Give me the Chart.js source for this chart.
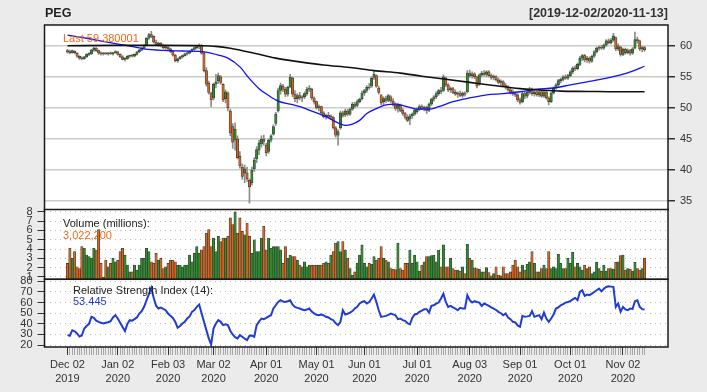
<!DOCTYPE html>
<html>
<head>
<meta charset="utf-8">
<script src="https://cdn.jsdelivr.net/npm/chart.js@4.4.1/dist/chart.umd.min.js"></script>
<style>
  html, body { margin: 0; padding: 0; background: #ebebeb; }
  #wrap { position: relative; width: 707px; height: 392px; overflow: hidden; font-family: "Liberation Sans", Arial, sans-serif; }
  #wrap canvas { position: absolute; left: 0; }
  .lbl { position: absolute; white-space: nowrap; font-size: 11px; line-height: 1; }
</style>
</head>
<body>
<div id="wrap">
  <canvas id="priceChart" width="707" height="220" style="top:0px"></canvas>
  <canvas id="volChart" width="707" height="86" style="top:200px"></canvas>
  <canvas id="rsiChart" width="707" height="122" style="top:270px"></canvas>

  <div class="lbl" style="left:45px; top:7px; font-size:12.5px; font-weight:bold; color:#222">PEG</div>
  <div class="lbl" style="right:39px; top:7px; font-size:12.5px; font-weight:bold; color:#333">[2019-12-02/2020-11-13]</div>
  <div class="lbl" style="left:63px; top:33px; color:#f06a14">Last 59.380001</div>
  <div class="lbl" style="left:63px; top:218px; color:#222">Volume (millions):</div>
  <div class="lbl" style="left:63px; top:230px; color:#f06a14">3,022,200</div>
  <div class="lbl" style="left:73px; top:285px; color:#222">Relative Strength Index (14):</div>
  <div class="lbl" style="left:73px; top:296px; color:#2038d8">53.445</div>
</div>

<script>
// PEG daily prices, 2019-12-02 .. 2020-11-13 (242 sessions)
const openPx = [
    59.2,59.0,58.9,59.1,58.8,58.3,58.0,57.9,58.2,58.6, 58.7,59.3,59.6,59.2,58.8,58.7,58.8,58.7,58.8,58.7,
    58.9,59.0,58.6,58.2,57.8,57.9,58.3,58.4,58.3,58.6, 59.0,59.3,59.6,60.1,61.2,61.8,61.5,60.6,60.2,60.4,
    60.0,59.7,59.8,59.5,59.1,58.5,57.6,57.9,58.2,58.4, 58.7,58.8,59.1,59.4,59.7,59.9,60.1,58.8,56.0,54.0,
    52.3,51.6,53.8,54.4,55.0,53.8,51.5,52.4,49.5,47.0, 44.8,45.0,42.2,40.5,39.5,39.5,38.4,38.0,40.2,41.8,
    43.2,44.2,45.0,44.0,43.0,44.8,45.8,47.5,49.5,52.8, 53.5,53.0,52.2,53.4,54.8,52.2,51.5,52.0,51.6,51.8,
    52.3,53.0,53.0,51.6,51.0,50.0,50.2,49.2,48.6,48.8, 48.5,48.5,46.8,45.6,46.8,49.2,48.9,49.5,49.0,49.8,
    50.6,50.4,51.0,51.5,52.4,52.8,53.3,53.5,54.9,55.2, 53.2,52.0,51.0,51.5,51.2,51.8,51.1,50.5,49.9,50.4,
    49.6,49.1,48.5,48.2,48.7,49.0,49.4,49.8,50.2,49.9, 50.1,49.6,50.6,51.4,51.8,52.3,52.8,52.8,54.8,53.7,
    52.9,53.1,52.5,52.2,52.4,52.0,52.4,52.6,55.6,55.2, 55.5,55.0,53.8,55.3,55.6,55.4,55.8,55.2,54.9,55.0,
    54.5,54.1,54.2,53.6,53.4,52.9,52.5,52.3,52.1,51.3, 51.0,52.3,51.9,52.5,53.0,52.3,52.6,52.1,52.6,51.9,
    52.6,51.6,51.0,52.4,53.2,53.7,54.4,54.6,55.0,54.8, 55.2,55.8,56.4,56.3,57.0,58.0,58.4,57.7,58.0,57.5,
    58.3,59.0,59.6,59.8,59.6,60.1,60.8,60.5,60.9,61.3, 59.5,59.8,58.6,59.4,58.9,59.2,58.8,59.6,61.0,60.8,
    59.5,59.7
];
const highPx = [
    59.4,59.3,59.3,59.2,58.9,58.4,58.2,58.3,58.7,58.9, 59.4,59.8,59.7,59.3,59.0,58.9,58.9,58.9,59.0,58.9,
    59.2,59.1,58.7,58.4,58.1,58.4,58.5,58.6,58.7,59.1, 59.4,59.7,60.2,61.3,62.0,62.3,61.6,60.9,60.6,60.5,
    60.2,60.0,59.9,59.6,59.2,58.6,58.0,58.3,58.5,58.8, 59.0,59.2,59.5,59.8,60.1,60.3,60.2,59.0,56.5,54.3,
    52.5,54.0,55.4,55.6,55.2,53.9,52.9,52.6,49.8,47.5, 47.6,45.5,43.0,41.0,40.8,40.5,38.6,40.5,42.0,43.8,
    44.8,45.5,45.6,44.3,45.0,45.7,47.3,49.3,53.2,54.0, 53.8,53.3,53.5,55.4,55.0,52.8,52.3,52.5,52.0,52.6,
    53.3,53.6,53.2,51.8,51.1,50.5,50.3,49.4,49.0,49.3, 48.9,48.6,47.0,46.5,49.5,49.5,49.8,49.8,50.0,50.9,
    50.9,51.3,51.6,52.7,53.0,53.6,53.9,55.0,55.9,55.3, 53.5,52.2,51.8,51.9,52.2,52.0,51.5,50.8,50.7,50.6,
    49.9,49.3,48.9,49.0,49.2,49.8,50.0,50.5,50.5,50.3, 50.3,50.8,51.6,52.0,52.6,53.0,53.3,55.3,55.0,53.9,
    53.4,53.3,52.9,52.6,52.7,52.6,52.6,56.0,56.1,55.8, 55.7,55.1,55.5,55.9,56.0,56.0,56.0,55.5,55.3,55.2,
    54.8,54.5,54.4,53.9,53.6,53.2,52.9,52.6,52.3,51.6, 52.5,52.6,52.8,53.3,53.2,52.9,52.9,52.8,52.8,52.8,
    52.7,51.8,52.6,53.4,53.9,54.6,54.8,55.2,55.3,55.4, 56.0,56.6,56.8,57.2,58.3,58.6,58.6,58.3,58.2,58.5,
    59.2,59.8,60.0,60.1,60.3,61.0,61.1,61.2,62.0,61.4, 60.3,59.9,59.6,59.6,59.5,59.4,59.7,62.2,61.4,60.9,
    59.9,59.9
];
const lowPx = [
    58.8,58.7,58.8,58.7,58.1,57.8,57.7,57.8,58.1,58.4, 58.6,59.1,59.1,58.6,58.5,58.5,58.6,58.5,58.6,58.5,
    58.8,58.5,58.1,57.7,57.5,57.8,58.1,58.2,58.2,58.5, 58.9,59.2,59.5,60.0,61.0,61.3,60.4,60.0,59.9,59.8,
    59.5,59.4,59.3,58.9,58.3,57.4,57.3,57.8,58.0,58.3, 58.5,58.7,59.0,59.3,59.5,59.5,58.6,55.8,53.5,52.2,
    50.2,51.3,53.2,53.9,53.8,51.0,50.8,49.5,45.5,43.5, 43.2,41.8,40.3,38.5,38.0,38.2,34.7,37.6,39.8,41.2,
    42.5,43.7,44.0,42.3,42.7,44.5,45.6,47.2,49.3,52.2, 52.6,51.8,51.9,53.2,51.8,51.0,50.8,51.3,51.0,51.5,
    52.0,52.6,51.3,50.6,49.8,49.5,49.0,48.4,48.2,48.4, 48.1,46.6,45.3,44.0,46.6,48.5,48.6,48.7,48.8,49.6,
    50.0,50.2,50.8,51.3,52.0,52.5,53.0,53.3,54.6,53.3, 52.2,50.5,50.4,50.9,51.0,50.9,50.3,49.6,49.3,49.4,
    48.8,48.2,47.8,47.3,48.3,48.8,49.1,49.6,49.7,49.5, 49.1,49.4,50.4,51.1,51.5,52.0,52.3,52.6,53.4,52.6,
    52.5,52.3,52.0,51.7,51.8,51.7,51.9,52.4,54.9,54.8, 54.7,53.2,53.6,55.0,55.1,55.0,55.0,54.6,54.5,54.3,
    53.9,53.6,53.4,53.0,52.7,52.2,52.0,51.8,51.0,50.6, 50.8,51.5,51.6,52.2,52.0,51.9,51.9,51.8,51.7,51.7,
    51.4,50.5,50.9,52.2,53.0,53.5,54.0,54.3,54.6,54.6, 55.0,55.5,56.0,56.1,56.8,57.6,57.4,57.3,57.2,57.3,
    58.1,58.8,59.3,59.4,59.4,59.9,60.3,60.3,60.7,59.2, 59.2,58.3,58.4,58.6,58.7,58.5,58.6,59.5,60.4,59.2,
    59.0,59.1
];
const closePx = [
    59.0,58.9,59.2,58.9,58.3,58.0,57.9,58.2,58.6,58.7, 59.3,59.6,59.2,58.8,58.7,58.8,58.7,58.8,58.7,58.9,
    59.0,58.6,58.2,57.8,57.9,58.3,58.4,58.3,58.6,59.0, 59.3,59.6,60.1,61.2,61.8,61.5,60.6,60.2,60.4,60.0,
    59.7,59.8,59.5,59.1,58.5,57.6,57.9,58.2,58.4,58.7, 58.8,59.1,59.4,59.7,60.0,60.1,58.8,56.0,53.8,52.5,
    51.3,53.8,54.2,55.2,54.1,51.3,52.6,50.0,46.0,44.5, 46.6,42.0,40.7,39.0,40.2,38.6,37.3,40.0,41.6,43.3,
    44.4,45.0,44.6,42.8,44.8,45.5,47.0,49.0,52.8,53.6, 53.0,52.2,53.3,54.9,52.2,51.5,52.0,51.6,51.8,52.3,
    53.0,53.2,51.6,51.0,50.0,50.2,49.2,48.6,48.8,48.5, 48.7,46.8,45.6,46.2,49.2,48.8,49.5,49.0,49.8,50.6,
    50.3,51.0,51.4,52.4,52.8,53.3,53.2,54.8,55.4,53.5, 52.5,50.8,51.5,51.2,52.0,51.1,50.5,49.9,50.4,49.6,
    49.1,48.5,48.0,48.7,49.0,49.6,49.8,50.2,49.9,50.1, 49.6,50.6,51.4,51.8,52.3,52.8,52.6,55.0,53.7,52.9,
    53.1,52.5,52.2,52.4,52.0,52.4,52.2,55.6,55.2,55.5, 55.0,53.5,55.3,55.6,55.4,55.8,55.2,54.9,55.0,54.5,
    54.1,54.2,53.6,53.4,52.9,52.5,52.3,52.1,51.3,50.9, 52.3,51.9,52.5,53.0,52.3,52.6,52.1,52.6,51.9,52.6,
    51.6,51.0,52.4,53.2,53.7,54.4,54.6,55.0,54.8,55.2, 55.8,56.4,56.3,57.0,58.0,58.4,57.7,58.0,57.5,58.3,
    59.0,59.6,59.8,59.6,60.1,60.8,60.5,60.9,61.6,59.5, 60.0,58.6,59.4,58.9,59.2,58.8,59.5,61.0,60.8,59.5,
    59.7,59.38
];

// volume in millions
const volumeM = [
    2.46,4.09,3.0,3.72,2.1,1.91,4.27,4.09,3.36,3.18, 3.0,4.09,3.9,6.08,2.46,1.0,2.82,2.1,2.46,3.0,
    2.64,2.82,3.72,4.09,3.36,2.28,1.55,1.55,2.28,1.73, 2.28,3.0,3.0,4.09,3.72,2.64,2.46,3.54,2.82,3.0,
    1.91,2.1,2.46,2.82,2.82,2.64,2.28,2.28,2.1,2.28, 2.28,3.36,2.64,3.54,4.27,3.54,3.9,4.27,5.72,6.08,
    4.27,5.17,3.72,5.36,4.81,5.17,5.17,5.36,7.35,6.62, 8.0,5.72,7.35,5.9,5.54,6.8,5.36,3.54,4.99,3.72,
    3.72,5.17,6.44,3.9,5.17,4.09,4.27,4.27,4.27,3.9, 2.46,4.27,3.0,3.36,3.18,3.18,2.82,2.28,2.1,2.64,
    2.1,2.28,2.28,2.28,2.28,2.28,2.28,2.46,2.64,2.46, 3.36,3.72,4.63,4.81,3.72,4.81,3.9,3.0,1.91,1.19,
    1.55,2.46,3.36,4.45,2.46,2.1,2.46,2.35,3.18,2.82, 3.0,4.27,3.0,2.82,2.64,1.91,1.84,1.8,4.63,1.91,
    1.73,2.46,2.46,3.9,2.46,3.36,2.64,1.62,2.28,2.64, 3.18,3.18,3.29,3.36,2.64,3.9,2.1,4.45,2.1,2.1,
    3.0,1.91,1.73,1.73,1.62,2.1,1.37,4.52,3.0,2.82, 1.99,1.91,1.84,1.55,1.55,2.02,1.48,1.12,1.37,2.1,
    1.19,1.12,2.1,1.37,1.37,1.55,2.28,2.82,2.1,1.55, 2.28,1.73,2.35,2.64,3.72,2.46,1.55,1.55,1.91,2.28,
    1.91,3.72,1.91,2.1,1.91,3.43,2.46,1.91,1.91,3.0, 2.46,3.65,2.1,2.46,2.1,1.73,2.28,1.91,2.1,1.37,
    1.55,2.57,1.91,1.62,2.28,1.62,1.91,1.91,1.84,2.57, 2.64,3.29,3.36,1.73,1.91,1.84,1.62,2.57,1.91,1.73,
    1.91,3.02
];

// RSI(14)
const rsiVal = [
    29.4,28.8,34,33,31,28,29,35.6,38,40, 46.6,45.6,43,41.9,41,40.3,41,41.5,42.5,46,
    48.1,45,41,37,33.1,40,43.4,43,44.5,46, 49.7,52,56,62,68,73.8,64.5,57,54.4,55.3,
    54,52.8,49.7,47.5,45.5,41.9,36.3,38,40.3,42, 45,47,51.3,53,56,58.1,50,41.9,34.1,26.3,
    20.6,35.6,40.3,43.4,41.9,38.8,39.5,38.8,33.5,30, 27.5,26.3,29.4,27.8,26,24.7,28.8,29,27.8,38.8,
    42,45,44.4,45.6,47,48.1,54.4,57.5,60.6,62.2, 61,60.6,61.3,62.2,58,55.9,55,54.4,53.5,52.8,
    53.5,54.4,51.5,49.7,48.6,48.1,48.8,48,46.6,46, 44.5,43.4,40.5,38.8,41.9,52.8,48.8,49.5,50.6,52,
    54.4,56,59.1,60.6,61.3,59.1,60.5,63.8,67.5,60.6, 52.8,46.6,47,47.5,48.5,49.7,48.9,48.1,44.4,45,
    43.5,42.8,40.5,39.4,45.6,48.8,49.5,51.3,52.5,53.8, 53.8,50.6,56.9,57.5,59,60,63.8,68.4,60.6,55.9,
    56.9,55.5,54.4,52.8,55,54.4,54.4,66.9,62.2,60, 61.3,60.5,60,56.9,59.1,58,56.9,55.5,54.4,53,
    51.3,50,48.1,49.7,46,44.4,41.9,41.3,38.5,37.2, 47.5,46.6,47,47.5,51.9,46.6,47.5,48.1,44.4,50.6,
    45,41.9,45,48.8,54.4,55.5,57.5,58.5,60,60.5, 61.3,63,64.4,62.2,70,71.6,66.3,67.5,67,68.4,
    70,71.6,73.1,70.6,73,74.7,75.3,75,74.7,55.9, 59.1,51.3,55.9,53.5,52.8,54.4,54,61.3,62.2,56,
    53.8,53.445
];

// moving averages, read at sample sessions
const sma50Idx = [0,8,16,24,32,40,48,55,59,63,67,72,76,80,84,88,93,97,102,108,113,116,119,122,125,129,133,137,141,146,151,155,161,168,175,182,189,196,203,210,217,224,231,236,241];
const sma50Val = [61.7,61.2,60.6,60.1,59.5,59.25,59.15,59.1,58.9,58.5,58.0,56.6,54.7,53.1,52.0,51.1,50.6,50.2,49.5,48.6,47.6,47.2,47.4,48.0,49.1,49.9,50.5,50.6,50.3,49.8,49.8,50.2,51.0,51.6,52.1,52.3,52.6,53.0,53.2,53.7,54.2,54.7,55.3,55.9,56.7];
const sma200Idx = [0,20,40,56,62,68,78,87,97,107,118,128,139,148,158,168,178,189,197,206,217,230,241];
const sma200Val = [60.0,60.05,60.05,60.0,59.9,59.6,58.8,58.0,57.4,56.9,56.5,56.0,55.6,55.1,54.6,54.1,53.6,53.1,52.9,52.7,52.65,52.6,52.6];

// axis
const monthIdx = [0,21,42,61,83,104,124,146,168,189,210,232];
const monthLabels = [
    ['Dec 02','2019'],['Jan 02','2020'],['Feb 03','2020'],['Mar 02','2020'],
    ['Apr 01','2020'],['May 01','2020'],['Jun 01','2020'],['Jul 01','2020'],
    ['Aug 03','2020'],['Sep 01','2020'],['Oct 01','2020'],['Nov 02','2020']
];
const priceTicks = [35,40,45,50,55,60];
const volTicks = [1,2,3,4,5,6,7,8];
const rsiTicks = [20,30,40,50,60,70,80];

const COLORS = {
    up: '#2a8f2a',
    dn: '#d8641c',
    wick: '#8c8c8c',
    edge: '#3a3a3a',
    grid: '#cccccc',
    dots: '#bdbdbd',
    sma50: '#1010ff',
    sma200: '#111111',
    rsi: '#1f3cd4',
    text: '#333333',
    frame: '#1a1a1a'
};
const FONT = '"Liberation Sans", Arial, sans-serif';
const X_MIN = -9.6, X_MAX = 250.8;

// white panel + black frame around every chart area
const panelFrame = {
    id: 'panelFrame',
    beforeDraw(chart) {
        const a = chart.chartArea, c = chart.ctx;
        c.save();
        c.fillStyle = '#ffffff';
        c.fillRect(a.left, a.top, a.width, a.height);
        c.restore();
    },
    afterDraw(chart) {
        const a = chart.chartArea, c = chart.ctx;
        c.save();
        c.strokeStyle = COLORS.frame;
        c.lineWidth = 1.5;
        c.strokeRect(a.left, a.top, a.width, a.height);
        c.restore();
    }
};

const isUp = closePx.map((c, i) => c >= openPx[i]);
const barColors = isUp.map(u => (u ? COLORS.up : COLORS.dn));

function hiddenX() {
    return { type: 'linear', min: X_MIN, max: X_MAX, offset: false, display: false };
}

function sideAxis(pos, min, max, ticks, dotted, width) {
    return {
        position: pos,
        min: min,
        max: max,
        beginAtZero: false,
        afterBuildTicks: s => { s.ticks = ticks.map(v => ({ value: v })); },
        afterFit: s => { s.width = width; s.paddingTop = 0; s.paddingBottom = 0; },
        grid: {
            color: dotted ? COLORS.dots : COLORS.grid,
            lineWidth: dotted ? 1 : 1.5,
            tickColor: '#333',
            tickLength: 7
        },
        border: { display: false, dash: dotted ? [1, 4] : [] },
        ticks: {
            autoSkip: false,
            color: COLORS.text,
            padding: 5,
            font: { family: FONT, size: 11 }
        }
    };
}

const baseOpts = {
    responsive: false,
    animation: false,
    events: [],
    plugins: { legend: { display: false }, tooltip: { enabled: false } }
};

// price panel
new Chart(document.getElementById('priceChart'), {
    type: 'bar',
    data: {
        datasets: [
            {
                type: 'line',
                data: sma200Idx.map((x, k) => ({ x: x, y: sma200Val[k] })),
                borderColor: COLORS.sma200,
                borderWidth: 1.6,
                pointRadius: 0,
                cubicInterpolationMode: 'monotone',
                order: 0
            },
            {
                type: 'line',
                data: sma50Idx.map((x, k) => ({ x: x, y: sma50Val[k] })),
                borderColor: COLORS.sma50,
                borderWidth: 1.3,
                pointRadius: 0,
                cubicInterpolationMode: 'monotone',
                order: 1
            },
            {
                data: closePx.map((c, i) => ({ x: i, y: [openPx[i], c] })),
                backgroundColor: barColors,
                borderColor: COLORS.edge,
                borderWidth: 0.7,
                borderSkipped: false,
                barThickness: 2.4,
                minBarLength: 1,
                grouped: false,
                order: 2
            },
            {
                data: closePx.map((c, i) => ({ x: i, y: [lowPx[i], highPx[i]] })),
                backgroundColor: COLORS.wick,
                barThickness: 1,
                grouped: false,
                order: 3
            }
        ]
    },
    options: {
        ...baseOpts,
        layout: { padding: { left: 44.5, right: 0, top: 25, bottom: 10 } },
        scales: {
            x: hiddenX(),
            y: sideAxis('right', 33.59, 63.33, priceTicks, false, 39)
        }
    },
    plugins: [panelFrame]
});

// volume panel
new Chart(document.getElementById('volChart'), {
    type: 'bar',
    data: {
        datasets: [{
            data: volumeM.map((v, i) => ({ x: i, y: v })),
            backgroundColor: barColors,
            borderColor: COLORS.edge,
            borderWidth: 0.7,
            borderSkipped: false,
            barThickness: 2.4,
            grouped: false
        }]
    },
    options: {
        ...baseOpts,
        layout: { padding: { left: 0, right: 39, top: 9.5, bottom: 6.7 } },
        scales: {
            x: hiddenX(),
            y: sideAxis('left', 0.75, 8.25, volTicks, true, 44.5)
        }
    },
    plugins: [panelFrame]
});

// RSI panel + date axis
new Chart(document.getElementById('rsiChart'), {
    type: 'line',
    data: {
        datasets: [{
            data: rsiVal.map((v, i) => ({ x: i, y: v })),
            borderColor: COLORS.rsi,
            borderWidth: 2,
            pointRadius: 0,
            tension: 0
        }]
    },
    options: {
        ...baseOpts,
        layout: { padding: { left: 0, right: 39, top: 9.3, bottom: 0 } },
        scales: {
            x: {
                type: 'linear',
                min: X_MIN,
                max: X_MAX,
                offset: false,
                position: 'bottom',
                afterBuildTicks: s => { s.ticks = closePx.map((_, i) => ({ value: i })); },
                afterFit: s => { s.height = 45; s.paddingLeft = 0; s.paddingRight = 0; },
                grid: {
                    drawOnChartArea: false,
                    drawTicks: true,
                    tickLength: 8,
                    tickColor: c => (c.tick && monthIdx.includes(c.tick.value) ? '#333' : '#a8a8a8')
                },
                border: { display: false },
                ticks: {
                    autoSkip: false,
                    maxRotation: 0,
                    minRotation: 0,
                    padding: 3,
                    color: COLORS.text,
                    font: { family: FONT, size: 11, lineHeight: 1.25 },
                    callback: v => {
                        const k = monthIdx.indexOf(v);
                        return k >= 0 ? monthLabels[k] : '';
                    }
                }
            },
            y: sideAxis('left', 18.2, 81.9, rsiTicks, true, 44.5)
        }
    },
    plugins: [panelFrame]
});
</script>
</body>
</html>
